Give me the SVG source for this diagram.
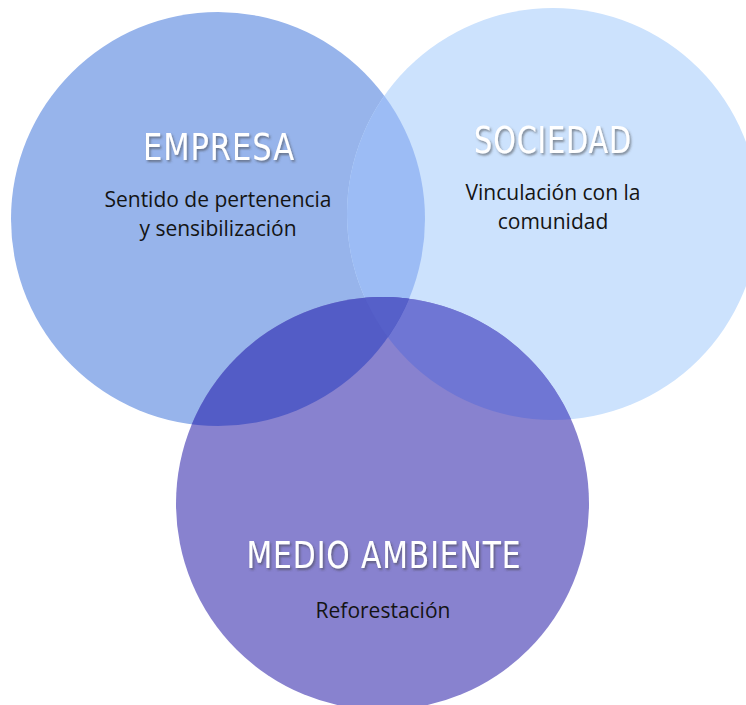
<svg xmlns="http://www.w3.org/2000/svg" width="746" height="705" viewBox="0 0 746 705">
<style>
.title{font-family:"Liberation Sans Narrow","DejaVu Sans Condensed","Liberation Sans",sans-serif;font-size:37px;fill:#ffffff;text-anchor:middle;filter:url(#sh);letter-spacing:1px}
.body{font-family:"Open Sans","Noto Sans","Liberation Sans",sans-serif;font-size:21px;fill:#141414;text-anchor:middle}
</style>
<defs>
<filter id="sh" x="-10%" y="-30%" width="120%" height="160%">
<feDropShadow dx="1.5" dy="2" stdDeviation="1.2" flood-color="#404040" flood-opacity="0.55"/>
</filter>
<clipPath id="cL"><circle cx="218" cy="219" r="207"/></clipPath>
<clipPath id="cR"><circle cx="553" cy="214" r="206"/></clipPath>
<clipPath id="cB"><circle cx="382.5" cy="503.5" r="206.5"/></clipPath>
</defs>
<rect width="746" height="705" fill="#ffffff"/>
<g id="empresa">
<circle cx="218" cy="219" r="207" fill="#97B4EB"/>
</g>
<g id="sociedad">
<circle cx="553" cy="214" r="206" fill="#CCE2FD"/>
<g clip-path="url(#cL)"><circle cx="553" cy="214" r="206" fill="#9CBCF5"/></g>
</g>
<g id="medio-ambiente">
<circle cx="382.5" cy="503.5" r="206.5" fill="#8882CF"/>
<g clip-path="url(#cR)"><circle cx="382.5" cy="503.5" r="206.5" fill="#6F76D4"/></g>
<g clip-path="url(#cL)"><circle cx="382.5" cy="503.5" r="206.5" fill="#535CC6"/>
<g clip-path="url(#cR)"><circle cx="382.5" cy="503.5" r="206.5" fill="#5660C9"/></g></g>
</g>
<g id="connectors"/>
<g id="labels">
<text class="title" x="219" y="160" textLength="152" lengthAdjust="spacingAndGlyphs">EMPRESA</text>
<text class="body" x="218" y="207">Sentido de pertenencia</text>
<text class="body" x="218" y="236">y sensibilización</text>
<text class="title" x="553" y="153" textLength="158" lengthAdjust="spacingAndGlyphs">SOCIEDAD</text>
<text class="body" x="553" y="200">Vinculación con la</text>
<text class="body" x="553" y="229">comunidad</text>
<text class="title" x="384" y="568" textLength="275" lengthAdjust="spacingAndGlyphs">MEDIO AMBIENTE</text>
<text class="body" x="383" y="618">Reforestación</text>
</g>
</svg>
